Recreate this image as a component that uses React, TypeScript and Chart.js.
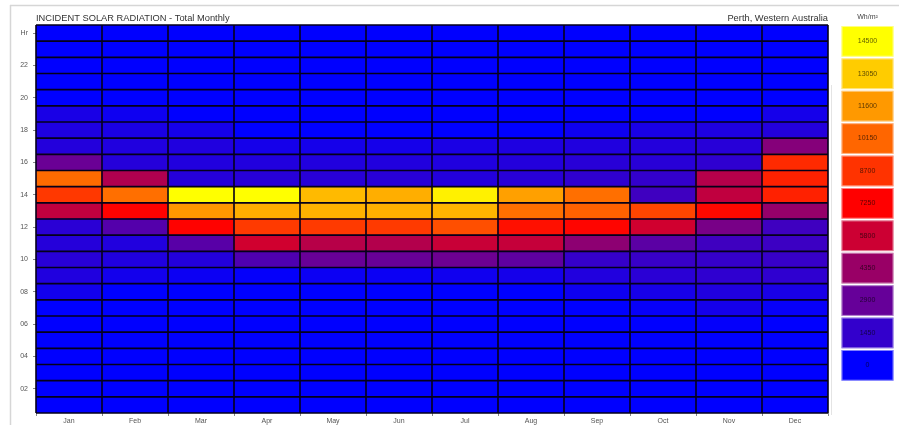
import React, { useEffect, useRef } from "react";
import { Chart, registerables } from "chart.js";

Chart.register(...registerables);

// Month categories
const MONTHS = ["Jan", "Feb", "Mar", "Apr", "May", "Jun", "Jul", "Aug", "Sep", "Oct", "Nov", "Dec"];

// Incident solar radiation (Wh/m²) by hour 1..24 (index 0 = hour 1)
const JAN = [0, 0, 0, 0, 0, 0, 0, 500, 900, 1150, 1050, 1200, 5450, 8850, 10300, 3000, 1000, 850, 700, 0, 0, 0, 0, 0];
const FEB = [0, 0, 0, 0, 0, 0, 0, 0, 550, 900, 950, 2400, 7300, 10400, 5000, 1050, 900, 750, 400, 0, 0, 0, 0, 0];
const MAR = [0, 0, 0, 0, 0, 0, 0, 0, 350, 1000, 2500, 7300, 11550, 14500, 1050, 950, 900, 600, 0, 0, 0, 0, 0, 0];
const APR = [0, 0, 0, 0, 0, 0, 0, 0, 150, 2250, 5900, 8900, 12200, 14500, 1100, 950, 600, 0, 0, 0, 0, 0, 0, 0];
const MAY = [0, 0, 0, 0, 0, 0, 0, 0, 350, 2950, 5200, 8900, 12300, 12550, 1150, 950, 600, 0, 0, 0, 0, 0, 0, 0];
const JUN = [0, 0, 0, 0, 0, 0, 0, 0, 300, 2950, 5100, 8900, 12250, 12200, 1150, 950, 600, 0, 0, 0, 0, 0, 0, 0];
const JUL = [0, 0, 0, 0, 0, 0, 0, 0, 450, 3100, 5700, 9500, 12400, 14100, 1000, 900, 750, 0, 0, 0, 0, 0, 0, 0];
const AUG = [0, 0, 0, 0, 0, 0, 0, 0, 600, 2700, 5600, 7700, 10400, 11800, 1150, 1000, 850, 0, 0, 0, 0, 0, 0, 0];
const SEP = [0, 0, 0, 0, 0, 0, 0, 400, 950, 1500, 4000, 7400, 10000, 10400, 1350, 1150, 900, 400, 0, 0, 0, 0, 0, 0];
const OCT = [0, 0, 0, 0, 0, 0, 200, 650, 1200, 1600, 2600, 5900, 9200, 1800, 1450, 1150, 1000, 700, 0, 0, 0, 0, 0, 0];
const NOV = [0, 0, 0, 0, 0, 100, 600, 900, 1350, 1500, 1800, 3400, 7480, 5450, 5150, 1350, 1100, 850, 0, 0, 0, 0, 0, 0];
const DEC = [0, 0, 0, 0, 0, 0, 200, 700, 1350, 1550, 1700, 1800, 4250, 8200, 8200, 8450, 3780, 1000, 600, 0, 0, 0, 0, 0];

const MONTH_VALUES = [JAN, FEB, MAR, APR, MAY, JUN, JUL, AUG, SEP, OCT, NOV, DEC];

// Colour-scale legend values (top to bottom)
const LEGEND_VALUES = [14500, 13050, 11600, 10150, 8700, 7250, 5800, 4350, 2900, 1450, 0];
const SCALE_MAX = 14500;
const SCALE_MID = 7250;

// Y tick positions (row centres) every two hours
const HOUR_TICKS = [1.5, 3.5, 5.5, 7.5, 9.5, 11.5, 13.5, 15.5, 17.5, 19.5, 21.5, 23.5];

const TITLE = "INCIDENT SOLAR RADIATION - Total Monthly";
const LOCATION = "Perth, Western Australia";
const UNIT = "Wh/m²";

function colorFor(v: number): string {
  const x = Math.max(0, Math.min(SCALE_MAX, v));
  if (x <= SCALE_MID) {
    const r = Math.round((255 * x) / SCALE_MID);
    return `rgb(${r},0,${255 - r})`;
  }
  const g = Math.round((255 * (x - SCALE_MID)) / (SCALE_MAX - SCALE_MID));
  return `rgb(255,${g},0)`;
}

const FONT = "'Liberation Sans', Arial, sans-serif";

const cellGridPlugin = {
  id: "cellGrid",
  afterDatasetsDraw(chart: any) {
    const ctx = chart.ctx as CanvasRenderingContext2D;
    const area = chart.chartArea;
    const xs = chart.scales.x;
    const ys = chart.scales.y;
    ctx.save();
    ctx.strokeStyle = "#05001a";
    ctx.lineWidth = 1.6;
    ctx.beginPath();
    for (let h = 0; h <= 24; h++) {
      const y = ys.getPixelForValue(h);
      ctx.moveTo(area.left, y);
      ctx.lineTo(area.right, y);
    }
    const n = MONTHS.length;
    const w = (area.right - area.left) / n;
    for (let i = 0; i <= n; i++) {
      const x = i < n ? xs.getPixelForValue(i) - w / 2 : xs.getPixelForValue(n - 1) + w / 2;
      ctx.moveTo(x, area.top);
      ctx.lineTo(x, area.bottom);
    }
    ctx.stroke();
    ctx.restore();
  },
};

const decorPlugin = {
  id: "decor",
  afterDraw(chart: any) {
    const ctx = chart.ctx as CanvasRenderingContext2D;
    const area = chart.chartArea;
    ctx.save();
    // light frame lines
    ctx.strokeStyle = "#d6d6d6";
    ctx.lineWidth = 1.5;
    ctx.beginPath();
    ctx.moveTo(10, 5.5);
    ctx.lineTo(899, 5.5);
    ctx.moveTo(10.5, 5);
    ctx.lineTo(10.5, 425);
    ctx.stroke();
    ctx.strokeStyle = "#e4e4e4";
    ctx.lineWidth = 1;
    ctx.beginPath();
    ctx.moveTo(area.right + 3.5, area.top + 60);
    ctx.lineTo(area.right + 3.5, area.bottom + 2);
    ctx.stroke();

    // titles
    ctx.fillStyle = "#333";
    ctx.font = `9.3px ${FONT}`;
    ctx.textBaseline = "alphabetic";
    ctx.textAlign = "left";
    ctx.fillText(TITLE, area.left, area.top - 4);
    ctx.textAlign = "right";
    ctx.fillText(LOCATION, area.right, area.top - 4);

    // colour legend
    const lx = area.right + 13.5;
    const lw = 52;
    const step = 32.4;
    const bh = 30.7;
    const top0 = area.top + 1;
    ctx.textAlign = "center";
    ctx.font = `7px ${FONT}`;
    ctx.fillStyle = "#444";
    ctx.fillText(UNIT, lx + lw / 2, area.top - 6);
    LEGEND_VALUES.forEach((v, i) => {
      const y = top0 + i * step;
      ctx.fillStyle = colorFor(v);
      ctx.fillRect(lx, y, lw, bh);
      ctx.strokeStyle = "rgba(255,255,255,0.5)";
      ctx.lineWidth = 1;
      ctx.strokeRect(lx + 0.5, y + 0.5, lw - 1, bh - 1);
      ctx.fillStyle = "rgba(0,0,0,0.65)";
      ctx.font = `7px ${FONT}`;
      ctx.textBaseline = "middle";
      ctx.fillText(String(v), lx + lw / 2, y + bh / 2);
    });
    ctx.restore();
  },
};

export default function App() {
  const ref = useRef<HTMLCanvasElement | null>(null);

  useEffect(() => {
    if (!ref.current) return;
    const hours = Array.from({ length: 24 }, (_, h) => h);
    const datasets = hours.map((h) => ({
      label: `Hour ${h + 1}`,
      data: MONTHS.map(() => 1),
      backgroundColor: MONTH_VALUES.map((arr) => colorFor(arr[h])),
      borderWidth: 0,
      inflateAmount: 0.5,
      barPercentage: 1,
      categoryPercentage: 1,
    }));

    const chart = new Chart(ref.current, {
      type: "bar",
      data: { labels: MONTHS, datasets },
      options: {
        responsive: false,
        animation: false,
        layout: { padding: { left: 0, top: 25, right: 71, bottom: 0 } },
        plugins: { legend: { display: false }, tooltip: { enabled: false }, title: { display: false } },
        scales: {
          x: {
            stacked: true,
            grid: { display: true, drawOnChartArea: false, drawTicks: true, tickLength: 3, color: "#888", offset: true },
            border: { display: false },
            ticks: { font: { family: FONT, size: 7 }, color: "#555", padding: 1, maxRotation: 0 },
            afterFit: (s: any) => {
              s.height = 12;
            },
          },
          y: {
            stacked: true,
            min: 0,
            max: 24,
            grid: { display: true, drawOnChartArea: false, drawTicks: true, tickLength: 3, color: "#888" },
            border: { display: false },
            afterBuildTicks: (axis: any) => {
              axis.ticks = HOUR_TICKS.map((value) => ({ value }));
            },
            ticks: {
              font: { family: FONT, size: 7 },
              color: "#555",
              padding: 5,
              autoSkip: false,
              callback: (v: any) => (v === 23.5 ? "Hr" : String(Math.round(Number(v) + 0.5)).padStart(2, "0")),
            },
            afterFit: (s: any) => {
              s.width = 36;
            },
          },
        },
      },
      plugins: [cellGridPlugin, decorPlugin],
    });
    return () => chart.destroy();
  }, []);

  return (
    <div style={{ position: "absolute", left: 0, top: 0, width: 899, height: 425, background: "#fff" }}>
      <canvas ref={ref} width={899} height={425} style={{ display: "block", width: 899, height: 425 }} />
    </div>
  );
}
